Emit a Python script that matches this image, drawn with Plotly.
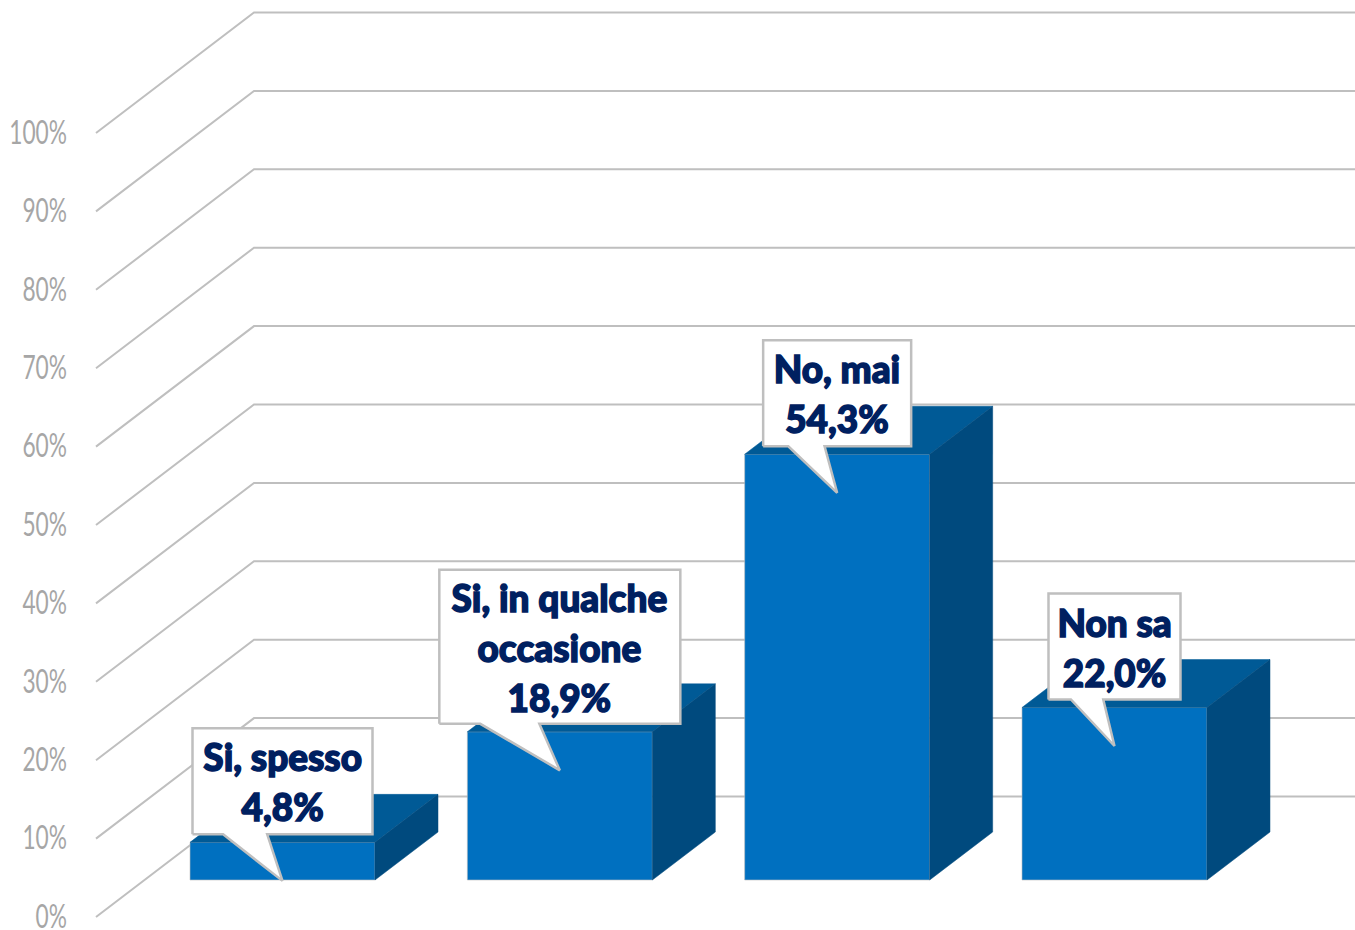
import plotly.graph_objects as go

# ---------- data ----------
categories = ["Si, spesso", "Si, in qualche<br>occasione", "No, mai", "Non sa"]
values = [4.8, 18.9, 54.3, 22.0]
value_labels = ["4,8%", "18,9%", "54,3%", "22,0%"]
tick_values = [0, 10, 20, 30, 40, 50, 60, 70, 80, 90, 100]
tick_labels = ["0%", "10%", "20%", "30%", "40%", "50%", "60%", "70%", "80%", "90%", "100%"]

# ---------- page geometry ----------
W, H = 1355, 930
X0_PX, STEP_PX = 282.5, 277.33      # first category centre, category spacing
Y0_PX, PCT_PX = 880.0, 7.84         # bar base, pixels per percentage point


def xu(px):
    return px / STEP_PX


def yu(px):
    return px / PCT_PX


x_range = [xu(0 - X0_PX), xu(W - X0_PX)]
y_range = [yu(Y0_PX - H), yu(Y0_PX)]

BAR_W = xu(185)
DEPTH_X, DEPTH_Y = xu(63), yu(48)
WALL_FX, WALL_BX = xu(96 - X0_PX), xu(254 - X0_PX)
WALL_FY, WALL_BY = yu(880 - 917), yu(880 - 796.5)

FRONT, TOP, SIDE = "#0070C0", "#005A96", "#004A7E"
GRID = "#BFBFBF"
NAVY = "#002060"

fig = go.Figure()

# front faces
fig.add_trace(go.Bar(
    x=list(range(len(values))), y=values, width=BAR_W,
    marker=dict(color=FRONT, line=dict(color="rgba(190,190,190,0.6)", width=1)),
    showlegend=False, hoverinfo="skip",
))

# top and side faces
for i, v in enumerate(values):
    l, r = i - BAR_W / 2, i + BAR_W / 2
    fig.add_trace(go.Scatter(
        x=[l, r, r + DEPTH_X, l + DEPTH_X, l], y=[v, v, v + DEPTH_Y, v + DEPTH_Y, v],
        mode="lines", fill="toself", fillcolor=TOP, line=dict(color=TOP, width=0.5),
        showlegend=False, hoverinfo="skip"))
    fig.add_trace(go.Scatter(
        x=[r, r + DEPTH_X, r + DEPTH_X, r, r], y=[0, DEPTH_Y, v + DEPTH_Y, v, 0],
        mode="lines", fill="toself", fillcolor=SIDE, line=dict(color=SIDE, width=0.5),
        showlegend=False, hoverinfo="skip"))

# callouts
half_w = [90, 120.5, 74, 66]
line_counts = [2, 3, 2, 2]
for i, v in enumerate(values):
    tip_y = v - yu(38.5)
    bottom = tip_y + yu(46.5)
    top = bottom + yu(106 if line_counts[i] == 2 else 154)
    hw = xu(half_w[i])
    xs = [i - hw, i - 0.66 * hw, i, i - 0.17 * hw, i + hw, i + hw, i - hw, i - hw]
    ys = [bottom, bottom, tip_y, bottom, bottom, top, top, bottom]
    fig.add_trace(go.Scatter(
        x=xs, y=ys, mode="lines", fill="toself", fillcolor="#FFFFFF",
        line=dict(color=GRID, width=2.5), showlegend=False, hoverinfo="skip"))
    fig.add_annotation(
        x=i, y=(top + bottom) / 2, xref="x", yref="y",
        text=f"{categories[i]}<br>{value_labels[i]}", showarrow=False,
        xanchor="center", yanchor="middle", align="center",
        font=dict(family="Lato", size=38.5, color=NAVY, weight=900))

# perspective gridlines, behind everything
for t in tick_values:
    fy, by = t + WALL_FY, t + WALL_BY
    fig.add_shape(
        type="path", xref="x", yref="y", layer="below",
        path=f"M {WALL_FX} {fy} L {WALL_BX} {by} L {x_range[1]} {by}",
        line=dict(color=GRID, width=2))

fig.update_layout(
    width=W, height=H, margin=dict(l=0, r=0, t=0, b=0, autoexpand=False),
    paper_bgcolor="#FFFFFF", plot_bgcolor="#FFFFFF", showlegend=False, barmode="overlay",
    xaxis=dict(range=x_range, visible=False, fixedrange=True),
    yaxis=dict(range=y_range, visible=False, fixedrange=True),
    yaxis2=dict(
        overlaying="y", anchor="free", position=67 / W, side="left", automargin=False,
        range=[yu(916.5 - H), yu(916.5)], tickmode="array",
        tickvals=tick_values, ticktext=tick_labels, ticks="", showgrid=False,
        showline=False, zeroline=False, fixedrange=True, ticklabeloverflow="allow",
        tickfont=dict(family="Lato", size=32, color="#A6A6A6")),
)
# invisible carrier so the percentage axis is drawn
fig.add_trace(go.Scatter(x=[None], y=[None], yaxis="y2", showlegend=False, hoverinfo="skip"))

# The reference type is a condensed heavy face; none is installed, so narrow and thicken the real text.
POST = """
document.body.style.margin = '0';
function squeeze(el, s) {
  var x = parseFloat(el.getAttribute('x')) || 0;
  var old = el.getAttribute('transform') || '';
  el.setAttribute('transform', old + ' translate(' + x + ',0) scale(' + s + ',1) translate(' + (-x) + ',0)');
}
document.querySelectorAll('.ytick text, .y2tick text').forEach(function (t) { squeeze(t, 0.71); });
document.querySelectorAll('.annotation-text').forEach(function (t) {
  squeeze(t, 0.96);
  t.style.stroke = '#002060';
  t.style.strokeWidth = '1.5px';
});
"""
fig.write_html("out.html", config={"displayModeBar": False}, post_script=POST)
